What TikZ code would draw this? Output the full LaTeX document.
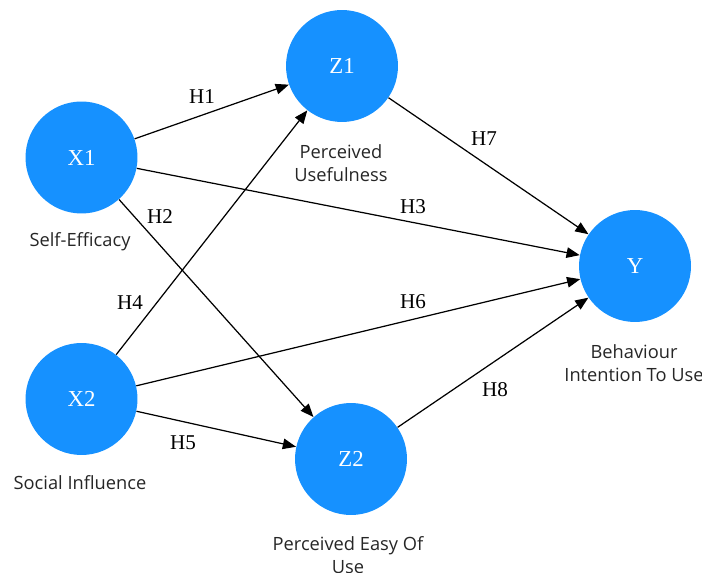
\documentclass[tikz,border=0pt]{standalone}
\usepackage{fontspec}
\setmainfont{Liberation Serif}
\newfontfamily\descfont{Open Sans}
\usetikzlibrary{arrows.meta,positioning}
\definecolor{latblue}{RGB}{22,145,255}

\begin{document}
\begin{tikzpicture}[x=0.02cm, y=-0.02cm, font=\fontsize{12}{14}\selectfont,
  lat/.style={circle, fill=latblue, text=white, minimum size=2.24cm, inner sep=0pt, font=\fontsize{13}{15}\selectfont},
  desc/.style={align=center, font=\descfont\fontsize{10.4}{13}\selectfont, text=black!85},
  hyp/.style={inner sep=1pt},
  arr/.style={-{Triangle[length=7.5pt,width=6pt]}, line width=0.7pt}]
\useasboundingbox (0,0) rectangle (702,573);
% constructs
\node[lat] (x1) at (81.5,157.5) {X1};
\node[lat] (x2) at (81.5,399) {X2};
\node[lat] (z1) at (342,66) {Z1};
\node[lat] (z2) at (351,459) {Z2};
\node[lat] (y) at (635,266) {Y};
% construct names
\node[desc] (x1d) at (80,242) {Self-Efficacy};
\node[desc] (x2d) at (80,483) {Social Influence};
\node[desc] (z1d) at (341,163.5) {Perceived\\Usefulness};
\node[desc] (z2d) at (348,555.5) {Perceived Easy Of\\Use};
\node[desc] (yd) at (634,363.5) {Behaviour\\Intention To Use};
% paths
\draw[arr] (x1)--(z1); \draw[arr] (x1)--(z2); \draw[arr] (x1)--(y);
\draw[arr] (x2)--(z1); \draw[arr] (x2)--(z2); \draw[arr] (x2)--(y);
\draw[arr] (z1)--(y); \draw[arr] (z2)--(y);
% hypotheses
\node[hyp] (h1) at (202,97) {H1};
\node[hyp] (h2) at (160,217) {H2};
\node[hyp] (h3) at (413,207) {H3};
\node[hyp] (h4) at (130,303) {H4};
\node[hyp] (h5) at (183,443) {H5};
\node[hyp] (h6) at (413,302) {H6};
\node[hyp] (h7) at (484,139) {H7};
\node[hyp] (h8) at (495,390) {H8};
\end{tikzpicture}
\end{document}
